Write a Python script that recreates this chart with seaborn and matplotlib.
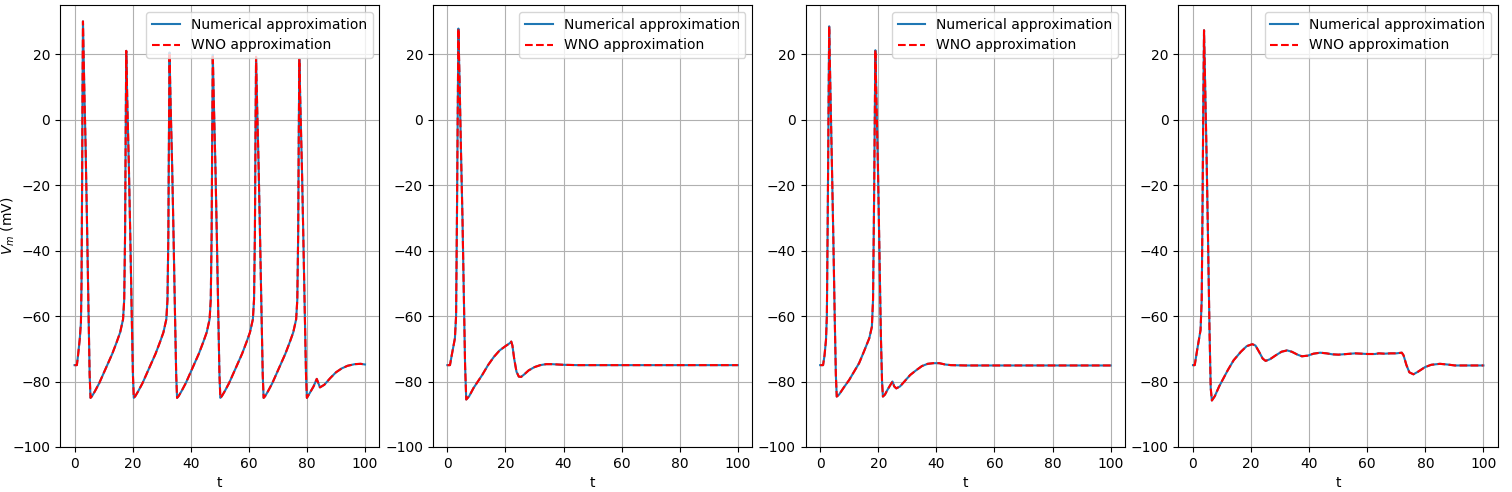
import numpy as np
import pandas as pd
import seaborn as sns
import matplotlib
matplotlib.use('Agg')
import matplotlib.pyplot as plt

# =============================================================
# DATA (membrane potential in mV)
# =============================================================
t_case1 = [0, 0.8, 1.2, 1.8, 2.2, 2.4, 2.6, 2.75, 2.9, 3.3, 3.8, 4.3, 4.8, 5.2, 5.5,
           6.0, 7.0, 8.5, 10.0, 11.5, 13.0, 14.5, 15.7, 16.7, 17.1, 17.4, 17.6, 17.8,
           18.2, 18.7, 19.2, 19.7, 20.1, 20.4,
           20.9, 21.9, 23.4, 24.9, 26.4, 27.9, 29.4, 30.6, 31.6, 32.0, 32.3, 32.5, 32.7,
           33.1, 33.6, 34.1, 34.6, 35.0, 35.3,
           35.8, 36.8, 38.3, 39.8, 41.3, 42.8, 44.3, 45.5, 46.5, 46.9, 47.2, 47.4, 47.6,
           48.0, 48.5, 49.0, 49.5, 49.9, 50.2,
           50.7, 51.7, 53.2, 54.7, 56.2, 57.7, 59.2, 60.4, 61.4, 61.8, 62.1, 62.3, 62.5,
           62.9, 63.4, 63.9, 64.4, 64.8, 65.1,
           65.6, 66.6, 68.1, 69.6, 71.1, 72.6, 74.1, 75.3, 76.3, 76.7, 77.0, 77.2, 77.4,
           77.8, 78.3, 78.8, 79.3, 79.7, 80.0,
           81.0, 82.3, 83.4, 84.5, 86.0, 88.0, 90.0, 92.0, 94.0, 96.5, 98.5, 100]
v_case1 = [-75, -75, -72, -67, -62, -50, -20, 10, 30, 12, -8, -32, -58, -78, -85,
           -84.5, -83, -80.5, -77.5, -74.5, -71.5, -68, -65, -61, -55, -35, -5, 21,
           4, -14, -36, -60, -78, -85,
           -84.5, -83, -80.5, -77.5, -74.5, -71.5, -68, -65, -61, -55, -35, -5, 20.5,
           4, -14, -36, -60, -78, -85,
           -84.5, -83, -80.5, -77.5, -74.5, -71.5, -68, -65, -61, -55, -35, -5, 19.8,
           4, -14, -36, -60, -78, -85,
           -84.5, -83, -80.5, -77.5, -74.5, -71.5, -68, -65, -61, -55, -35, -5, 19.2,
           3, -15, -37, -60, -78, -85,
           -84.5, -83, -80.5, -77.5, -74.5, -71.5, -68, -65, -61, -55, -35, -5, 18.4,
           3, -15, -37, -60, -78, -85,
           -83.5, -81.5, -79.2, -81.8, -81, -79, -77.2, -76, -75.2, -74.7, -74.6, -74.8]

t_case2 = [0, 0.9, 1.5, 2.6, 3.0, 3.3, 3.55, 3.8, 4.2, 4.7, 5.2, 5.7, 6.1, 6.5,
           7.5, 9, 10.5, 12, 14, 16, 18, 20, 21, 21.6, 22.0, 22.4, 23.0, 23.8, 24.6,
           25.4, 26.5, 28, 30, 32, 34, 36, 40, 45, 100]
v_case2 = [-75, -75, -72, -66.8, -60, -30, 0, 27.8, 12, -10, -30, -55, -75, -85.5,
           -84.5, -82, -80, -78, -75, -72.5, -70.5, -69.2, -68.6, -68.2, -67.8, -69, -73, -77, -78.5,
           -78.6, -77.8, -76.6, -75.6, -75, -74.7, -74.7, -74.9, -75, -75]

t_case3 = [0, 1.0, 1.5, 2.0, 2.3, 2.6, 2.85, 3.1, 3.5, 4.0, 4.5, 5.0, 5.4, 5.7,
           6.5, 8, 10, 12, 13.4, 15, 16.9, 17.8, 18.2, 18.5, 18.75, 19.0,
           19.4, 19.9, 20.4, 20.9, 21.3, 21.6,
           22.3, 23.2, 24.2, 24.9, 25.5, 26.2, 27.5, 29, 31, 33, 35, 37, 39, 41, 43, 45, 50, 100]
v_case3 = [-75, -75, -72, -67.3, -60, -30, 0, 28.5, 10, -12, -34.7, -60, -78, -84.6,
           -84, -82, -79.5, -76.5, -74.4, -71, -66.8, -63.3, -55, -30, -5, 21.2,
           5, -15, -40, -66, -80, -84.6,
           -84, -82.5, -81, -80, -81.5, -82.1, -81.5, -80, -78, -76.6, -75.3, -74.6, -74.4, -74.4,
           -74.8, -75, -75.1, -75.1]

t_case4 = [0, 0.6, 1.5, 2.6, 3.0, 3.3, 3.55, 3.8, 4.2, 4.7, 5.2, 5.7, 6.1, 6.5,
           7.5, 9, 10.5, 12, 14, 16.5, 18.5, 20.4, 21.5, 22.8, 24, 25.0, 26.5, 28.5,
           30.5, 32.4, 34, 36, 37.5, 39.5, 41.5, 43.8, 46, 48, 50.1, 53, 55.8, 58, 60,
           62.7, 64, 66, 68, 70, 71.9, 72.5, 73.5, 74.5, 75.9, 77.5, 79.9, 82, 85, 87.5,
           90.2, 95, 100]
v_case4 = [-75, -75, -70, -64.3, -55, -25, 5, 27.3, 10, -12, -37.8, -65, -82, -85.8,
           -84.5, -81.5, -79, -76.5, -73.5, -70.9, -69.2, -68.6, -69, -71, -73, -73.7, -73.2, -72,
           -70.9, -70.5, -70.9, -71.8, -72.3, -72.1, -71.5, -71.2, -71.4, -71.7, -71.8, -71.6, -71.4, -71.5, -71.6,
           -71.6, -71.4, -71.5, -71.4, -71.4, -71.2, -72, -75, -77.2, -77.8, -77, -75.6, -74.9, -74.6, -74.8,
           -75.1, -75.1, -75.1]

# WNO prediction sits on top of the numerical solution
cases = [(t_case1, v_case1, v_case1),
         (t_case2, v_case2, v_case2),
         (t_case3, v_case3, v_case3),
         (t_case4, v_case4, v_case4)]

# =============================================================
# PLOT
# =============================================================
fig, axes = plt.subplots(1, 4, figsize=(15.12, 4.92), dpi=100)
fig.subplots_adjust(left=0.0397, right=0.9907, top=0.9898, bottom=0.0915, wspace=0.167)

for i, (t, v_num, v_wno) in enumerate(cases):
    ax = axes[i]
    sns.lineplot(x=t, y=v_num, ax=ax, color='#1f77b4', linewidth=1.5,
                 label='Numerical approximation', sort=False)
    sns.lineplot(x=t, y=v_wno, ax=ax, color='red', linewidth=1.5, linestyle='--',
                 label='WNO approximation', sort=False)
    ax.set_ylim(-100, 35)
    ax.set_xlabel('t')
    ax.grid(True)
    ax.legend(loc='upper right')
    if i == 0:
        ax.set_ylabel(r'$V_m$ (mV)')
        ax.yaxis.set_label_coords(-0.135, 0.5)

plt.savefig('out.png', dpi=100)
plt.close()
